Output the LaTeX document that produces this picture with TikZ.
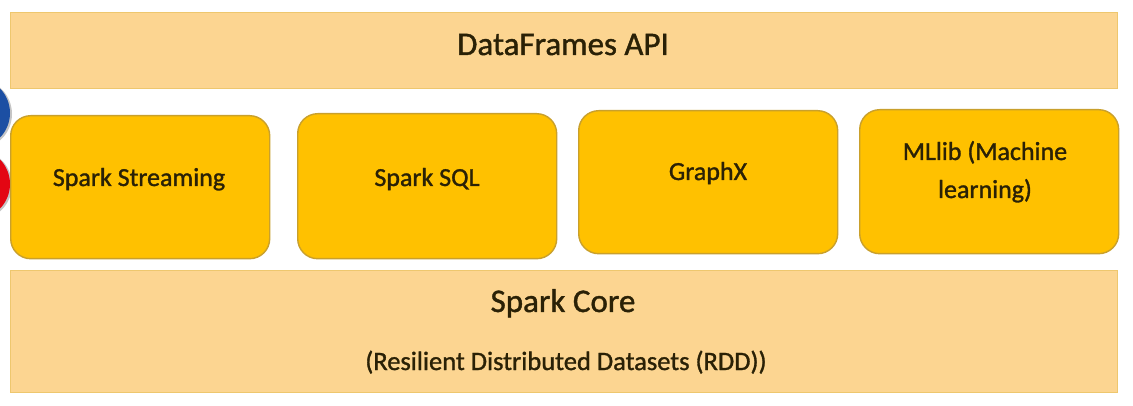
\documentclass[tikz,border=0pt]{standalone}
\usepackage{fontspec}
\setmainfont{Carlito}
\newfontfamily\heavier{Carlito}[FakeBold=1.2]
\usetikzlibrary{shadows}
\definecolor{barfill}{HTML}{FCD591}
\definecolor{barline}{HTML}{EEC76E}
\definecolor{boxfill}{HTML}{FFC100}
\definecolor{boxline}{HTML}{C9A02C}
\definecolor{txt}{HTML}{2A2106}
\definecolor{dotblue}{HTML}{1C4FA3}
\definecolor{dotred}{HTML}{E30613}
\begin{document}
\begin{tikzpicture}[x=1pt,y=-1pt,
  bar/.style={draw=barline,line width=1.2pt,fill=barfill,minimum width=1107pt,inner sep=0pt,anchor=north west},
  module/.style={draw=boxline,line width=1.4pt,fill=boxfill,rounded corners=20pt,inner sep=0pt,anchor=north west,minimum width=259pt,minimum height=144pt},
  lbl/.style={text=txt,inner sep=0pt,anchor=base},
  dot/.style={circle,minimum size=70pt,inner sep=0pt,drop shadow={shadow xshift=2pt,shadow yshift=-1pt,opacity=0.45}}]
\useasboundingbox (0,0) rectangle (1133,406);
\fill[white] (0,0) rectangle (1133,406);
\begin{scope}
\clip (0,0) rectangle (1133,406);
\node[dot,fill=dotblue] (blue) at (-25,113) {};
\node[dot,fill=dotred] (red) at (-25,184) {};
\end{scope}
\node[bar,minimum height=76pt] (api) at (10,12) {};
\node[bar,minimum height=122pt] (core) at (10,270) {};
\node[module,minimum height=143pt] (stream) at (10,115) {};
\node[module,minimum height=145pt] (sql) at (297,113) {};
\node[module,minimum height=143pt] (graphx) at (578,110) {};
\node[module,minimum height=144pt] (mllib) at (859,109) {};
\node[lbl,font=\heavier\fontsize{33}{38}\selectfont] (apit) at (563,55) {DataFrames API};
\node[lbl,font=\heavier\fontsize{33}{38}\selectfont] (coret) at (563,312) {Spark Core};
\node[lbl,font=\heavier\fontsize{26.5}{30}\selectfont] (rddt) at (566,370) {(Resilient Distributed Datasets (RDD))};
\node[lbl,font=\heavier\fontsize{26}{30}\selectfont] (streamt) at (139,186) {Spark Streaming};
\node[lbl,font=\heavier\fontsize{26}{30}\selectfont] (sqlt) at (427,186) {Spark SQL};
\node[lbl,font=\heavier\fontsize{26}{30}\selectfont] (graphxt) at (708,180) {GraphX};
\node[lbl,font=\heavier\fontsize{26}{30}\selectfont] (mllibt1) at (985,160) {MLlib (Machine};
\node[lbl,font=\heavier\fontsize{26}{30}\selectfont] (mllibt2) at (985,198) {learning)};
\end{tikzpicture}
\end{document}
